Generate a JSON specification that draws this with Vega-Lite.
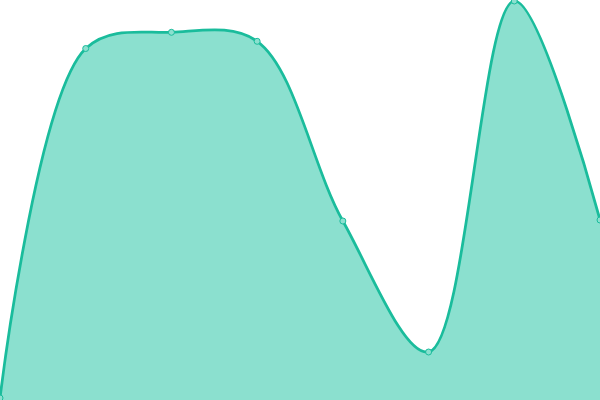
{
  "$schema": "https://vega.github.io/schema/vega-lite/v6.json",
  "width": 600,
  "height": 400,
  "autosize": {"type": "fit", "contains": "padding"},
  "padding": 0,
  "background": "white",
  "config": {"view": {"stroke": null}},
  "data": {"values": [
    {"i": 0, "v": 2},
    {"i": 1, "v": 351.5},
    {"i": 2, "v": 367.7},
    {"i": 3, "v": 358.7},
    {"i": 4, "v": 179},
    {"i": 5, "v": 48},
    {"i": 6, "v": 399},
    {"i": 7, "v": 180}
  ]},
  "encoding": {
    "x": {"field": "i", "type": "quantitative", "scale": {"domain": [0, 7], "nice": false, "zero": false}, "axis": null},
    "y": {"field": "v", "type": "quantitative", "scale": {"domain": [0, 400], "nice": false}, "axis": null}
  },
  "layer": [
    {"mark": {"type": "area", "interpolate": "catmull-rom", "color": "#8be0cf", "opacity": 1, "clip": true}},
    {"mark": {"type": "line", "interpolate": "catmull-rom", "color": "#1abc9c", "strokeWidth": 2.75, "clip": true}},
    {"mark": {"type": "point", "filled": true, "fill": "#8be0cf", "stroke": "#1abc9c", "strokeWidth": 1, "size": 36, "opacity": 1, "clip": true}}
  ]
}
